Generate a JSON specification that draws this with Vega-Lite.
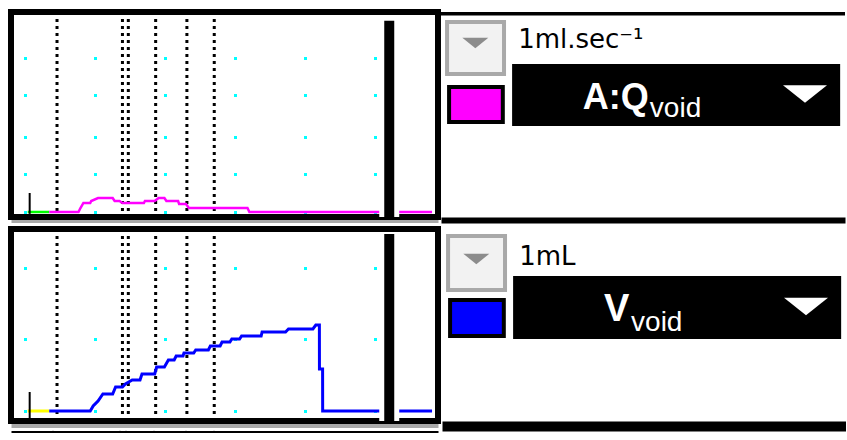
{
  "$schema": "https://vega.github.io/schema/vega-lite/v6.json",
  "background": "white",
  "padding": {"left": 8, "top": 7, "right": 0, "bottom": 0},
  "config": {"view": {"stroke": "black", "strokeWidth": 6}},
  "datasets": {
    "channels": [
      {"channel": "Qvoid", "unit": "1ml.sec⁻¹", "name": "A:Q", "sub": "void"},
      {"channel": "Vvoid", "unit": "1mL", "name": "V", "sub": "void"}
    ],
    "events": [{"t": 4}, {"t": 13.57}, {"t": 14.43}, {"t": 18.43}, {"t": 23}, {"t": 27}],
    "start": [{"t": 0}],
    "cursor": [{"t": 52.6}],
    "flow": [
      {"t": -0.29, "q": 0, "seg": "Qpre"}, {"t": 2.86, "q": 0, "seg": "Qpre"},
      {"t": 2.86, "q": 0, "seg": "Qvoid"}, {"t": 7.14, "q": 0, "seg": "Qvoid"},
      {"t": 7.43, "q": 1.05, "seg": "Qvoid"}, {"t": 7.86, "q": 2.37, "seg": "Qvoid"},
      {"t": 8.86, "q": 2.37, "seg": "Qvoid"}, {"t": 9, "q": 2.89, "seg": "Qvoid"},
      {"t": 10, "q": 3.68, "seg": "Qvoid"}, {"t": 12.14, "q": 3.68, "seg": "Qvoid"},
      {"t": 12.43, "q": 2.89, "seg": "Qvoid"}, {"t": 13.14, "q": 2.89, "seg": "Qvoid"},
      {"t": 13.57, "q": 2.37, "seg": "Qvoid"}, {"t": 16.71, "q": 2.37, "seg": "Qvoid"},
      {"t": 16.86, "q": 2.89, "seg": "Qvoid"}, {"t": 18.29, "q": 2.89, "seg": "Qvoid"},
      {"t": 18.86, "q": 3.68, "seg": "Qvoid"}, {"t": 19.71, "q": 3.68, "seg": "Qvoid"},
      {"t": 20, "q": 2.89, "seg": "Qvoid"}, {"t": 21.71, "q": 2.89, "seg": "Qvoid"},
      {"t": 21.86, "q": 2.1, "seg": "Qvoid"}, {"t": 22.86, "q": 2.1, "seg": "Qvoid"},
      {"t": 23.29, "q": 1.05, "seg": "Qvoid"}, {"t": 31.86, "q": 1.05, "seg": "Qvoid"},
      {"t": 32.14, "q": 0, "seg": "Qvoid"}, {"t": 58.86, "q": 0, "seg": "Qvoid"}
    ],
    "volume": [
      {"t": -0.29, "v": 0, "seg": "Vpre"}, {"t": 2.86, "v": 0, "seg": "Vpre"},
      {"t": 2.86, "v": 0, "seg": "Vvoid"}, {"t": 8.86, "v": 0, "seg": "Vvoid"},
      {"t": 9.29, "v": 13.7, "seg": "Vvoid"}, {"t": 10, "v": 27.4, "seg": "Vvoid"},
      {"t": 10.71, "v": 46.6, "seg": "Vvoid"}, {"t": 12.14, "v": 46.6, "seg": "Vvoid"},
      {"t": 12.57, "v": 65.8, "seg": "Vvoid"}, {"t": 13.57, "v": 65.8, "seg": "Vvoid"},
      {"t": 14, "v": 74, "seg": "Vvoid"}, {"t": 15, "v": 84.9, "seg": "Vvoid"},
      {"t": 16.14, "v": 84.9, "seg": "Vvoid"}, {"t": 16.43, "v": 101.4, "seg": "Vvoid"},
      {"t": 18.29, "v": 101.4, "seg": "Vvoid"}, {"t": 18.57, "v": 120.5, "seg": "Vvoid"},
      {"t": 19.71, "v": 120.5, "seg": "Vvoid"}, {"t": 20.29, "v": 139.7, "seg": "Vvoid"},
      {"t": 21.14, "v": 139.7, "seg": "Vvoid"}, {"t": 21.43, "v": 150.7, "seg": "Vvoid"},
      {"t": 22.43, "v": 150.7, "seg": "Vvoid"}, {"t": 22.57, "v": 158.9, "seg": "Vvoid"},
      {"t": 24, "v": 158.9, "seg": "Vvoid"}, {"t": 24.29, "v": 167.1, "seg": "Vvoid"},
      {"t": 26.14, "v": 167.1, "seg": "Vvoid"}, {"t": 26.43, "v": 178.1, "seg": "Vvoid"},
      {"t": 27.86, "v": 178.1, "seg": "Vvoid"}, {"t": 28.14, "v": 189, "seg": "Vvoid"},
      {"t": 29.29, "v": 189, "seg": "Vvoid"}, {"t": 29.57, "v": 197.3, "seg": "Vvoid"},
      {"t": 30.71, "v": 197.3, "seg": "Vvoid"}, {"t": 31, "v": 205.5, "seg": "Vvoid"},
      {"t": 33.86, "v": 205.5, "seg": "Vvoid"}, {"t": 34, "v": 216.4, "seg": "Vvoid"},
      {"t": 37.43, "v": 216.4, "seg": "Vvoid"}, {"t": 37.86, "v": 224.7, "seg": "Vvoid"},
      {"t": 41.43, "v": 224.7, "seg": "Vvoid"}, {"t": 41.86, "v": 235.6, "seg": "Vvoid"},
      {"t": 42.38, "v": 235.6, "seg": "Vvoid"}, {"t": 42.39, "v": 115, "seg": "Vvoid"},
      {"t": 42.85, "v": 115, "seg": "Vvoid"}, {"t": 42.86, "v": 0, "seg": "Vvoid"},
      {"t": 58.86, "v": 0, "seg": "Vvoid"}
    ]
  },
  "spacing": 0,
  "vconcat": [
    {
      "spacing": 0,
      "hconcat": [
        {
          "width": 427, "height": 205,
          "layer": [
            {
              "data": {"name": "events"},
              "mark": {"type": "rule", "color": "black", "strokeWidth": 3, "strokeDash": [3, 4]},
              "encoding": {
                "x": {"field": "t", "type": "quantitative", "scale": {"domain": [-2, 59], "nice": false, "zero": false},
                  "axis": {"orient": "bottom", "offset": 4, "domain": true, "domainColor": "#a9a9a9", "domainWidth": 3, "ticks": false, "labels": false, "grid": false, "title": null}}
              }
            },
            {
              "data": {"name": "flow"},
              "mark": {"type": "line", "strokeWidth": 2.5},
              "encoding": {
                "x": {"field": "t", "type": "quantitative", "scale": {"domain": [-2, 59], "nice": false, "zero": false}},
                "y": {"field": "q", "type": "quantitative", "scale": {"domain": [-1.32, 52.63], "nice": false, "zero": false},
                  "axis": {"values": [0, 10, 19.7, 30.8, 40.5], "grid": true, "gridColor": "#00ffff", "gridWidth": 3, "gridDash": [3, 67], "gridDashOffset": 57.5, "domain": false, "ticks": false, "labels": false, "title": null}},
                "stroke": {"field": "seg", "type": "nominal", "scale": {"domain": ["Qpre", "Qvoid", "Vpre", "Vvoid"], "range": ["#00ff00", "#ff00ff", "#ffff00", "#0000ff"]}, "legend": null}
              }
            },
            {
              "data": {"name": "start"},
              "mark": {"type": "rule", "color": "black", "strokeWidth": 2},
              "encoding": {"x": {"field": "t", "type": "quantitative"}, "y": {"datum": -0.5}, "y2": {"datum": 5}}
            },
            {
              "data": {"name": "cursor"},
              "mark": {"type": "bar", "color": "white", "width": 20},
              "encoding": {"x": {"field": "t", "type": "quantitative"}, "y": {"datum": 50.3}, "y2": {"datum": -1.32}}
            },
            {
              "data": {"name": "cursor"},
              "mark": {"type": "bar", "color": "black", "width": 10},
              "encoding": {"x": {"field": "t", "type": "quantitative"}, "y": {"datum": 50.3}, "y2": {"datum": -1.32}}
            }
          ]
        },
        {
          "width": 404, "height": 205,
          "view": {"stroke": null},
          "data": {"name": "channels"},
          "transform": [{"filter": "datum.channel == 'Qvoid'"}],
          "layer": [
            {
              "mark": {"type": "rect", "fill": "black"},
              "encoding": {
                "x": {"datum": 0, "type": "quantitative", "scale": {"domain": [0, 100], "nice": false, "zero": false},
                  "axis": {"orient": "bottom", "offset": 3, "domain": true, "domainColor": "black", "domainWidth": 6, "ticks": false, "labels": false, "grid": false, "title": null}},
                "x2": {"datum": 100},
                "y": {"datum": 0, "type": "quantitative", "scale": {"domain": [0, 100], "nice": false, "zero": false, "reverse": true}, "axis": null},
                "y2": {"datum": 1.7}
              }
            },
            {
              "mark": {"type": "rect", "fill": "#f2f2f2", "stroke": "#a9a9a9", "strokeWidth": 4},
              "encoding": {
                "x": {"datum": 1.5, "type": "quantitative"},
                "x2": {"datum": 15.6},
                "y": {"datum": 4.9, "type": "quantitative"},
                "y2": {"datum": 30.2}
              }
            },
            {
              "mark": {"type": "point", "shape": "M-1,-0.4L1,-0.4L0,0.4Z", "filled": true, "color": "#8c8c8c", "opacity": 1, "size": 676},
              "encoding": {
                "x": {"datum": 8.5, "type": "quantitative"},
                "y": {"datum": 15.1, "type": "quantitative"}
              }
            },
            {
              "mark": {"type": "text", "align": "left", "baseline": "alphabetic", "font": "DejaVu Sans", "fontSize": 26, "color": "black"},
              "encoding": {
                "x": {"datum": 19.1, "type": "quantitative"},
                "y": {"datum": 17.6, "type": "quantitative"},
                "text": {"field": "unit"}
              }
            },
            {
              "mark": {"type": "rect", "fill": "black"},
              "encoding": {
                "x": {"datum": 17.6, "type": "quantitative"},
                "x2": {"datum": 98.8},
                "y": {"datum": 25.4, "type": "quantitative"},
                "y2": {"datum": 55.6}
              }
            },
            {
              "mark": {"type": "rect", "stroke": "black", "strokeWidth": 4},
              "encoding": {
                "x": {"datum": 2.0, "type": "quantitative"},
                "x2": {"datum": 15.3},
                "y": {"datum": 36.6, "type": "quantitative"},
                "y2": {"datum": 53.7},
                "fill": {"field": "channel", "type": "nominal", "scale": {"domain": ["Qpre", "Qvoid", "Vpre", "Vvoid"], "range": ["#00ff00", "#ff00ff", "#ffff00", "#0000ff"]}, "legend": null}
              }
            },
            {
              "mark": {"type": "text", "align": "left", "baseline": "alphabetic", "font": "Liberation Sans", "fontSize": 36, "fontWeight": "bold", "color": "white"},
              "encoding": {
                "x": {"datum": 35.1, "type": "quantitative"},
                "y": {"datum": 47.3, "type": "quantitative"},
                "text": {"field": "name"}
              }
            },
            {
              "mark": {"type": "text", "align": "left", "baseline": "alphabetic", "font": "Liberation Sans", "fontSize": 28, "color": "white"},
              "encoding": {
                "x": {"datum": 51.7, "type": "quantitative"},
                "y": {"datum": 51.2, "type": "quantitative"},
                "text": {"field": "sub"}
              }
            },
            {
              "mark": {"type": "point", "shape": "M-1,-0.4L1,-0.4L0,0.4Z", "filled": true, "color": "white", "opacity": 1, "size": 1936},
              "encoding": {
                "x": {"datum": 90.1, "type": "quantitative"},
                "y": {"datum": 40.0, "type": "quantitative"}
              }
            }
          ]
        }
      ]
    },
    {
      "spacing": 0,
      "hconcat": [
        {
          "width": 427, "height": 192,
          "layer": [
            {
              "data": {"name": "events"},
              "mark": {"type": "rule", "color": "black", "strokeWidth": 3, "strokeDash": [3, 4]},
              "encoding": {
                "x": {"field": "t", "type": "quantitative", "scale": {"domain": [-2, 59], "nice": false, "zero": false},
                  "axis": {"orient": "bottom", "offset": 4.5, "domain": true, "domainColor": "#a9a9a9", "domainWidth": 4, "ticks": false, "labels": false, "grid": false, "title": null}}
              }
            },
            {
              "data": {"name": "volume"},
              "mark": {"type": "line", "strokeWidth": 3},
              "encoding": {
                "x": {"field": "t", "type": "quantitative"},
                "y": {"field": "v", "type": "quantitative", "scale": {"domain": [-27.4, 498.6], "nice": false, "zero": false},
                  "axis": {"values": [0, 95.9, 197.3, 298.6, 391.8, 493.2], "grid": true, "gridColor": "#00ffff", "gridWidth": 3, "gridDash": [3, 67], "gridDashOffset": 57.5, "domain": false, "ticks": false, "labels": false, "title": null}},
                "stroke": {"field": "seg", "type": "nominal", "scale": {"domain": ["Qpre", "Qvoid", "Vpre", "Vvoid"], "range": ["#00ff00", "#ff00ff", "#ffff00", "#0000ff"]}, "legend": null}
              }
            },
            {
              "data": {"name": "start"},
              "mark": {"type": "rule", "color": "black", "strokeWidth": 2},
              "encoding": {"x": {"field": "t", "type": "quantitative"}, "y": {"datum": -22}, "y2": {"datum": 52}}
            },
            {
              "data": {"name": "cursor"},
              "mark": {"type": "bar", "color": "white", "width": 20},
              "encoding": {"x": {"field": "t", "type": "quantitative"}, "y": {"datum": 485}, "y2": {"datum": -27.4}}
            },
            {
              "data": {"name": "cursor"},
              "mark": {"type": "bar", "color": "black", "width": 10},
              "encoding": {"x": {"field": "t", "type": "quantitative"}, "y": {"datum": 485}, "y2": {"datum": -27.4}}
            }
          ]
        },
        {
          "width": 404, "height": 192,
          "view": {"stroke": null},
          "data": {"name": "channels"},
          "transform": [{"filter": "datum.channel == 'Vvoid'"}],
          "layer": [
            {
              "mark": {"type": "rect", "fill": "#f2f2f2", "stroke": "#a9a9a9", "strokeWidth": 4},
              "encoding": {
                "x": {"datum": 1.5, "type": "quantitative", "scale": {"domain": [0, 100], "nice": false, "zero": false},
                  "axis": {"orient": "bottom", "offset": 5, "domain": true, "domainColor": "black", "domainWidth": 10, "ticks": false, "labels": false, "grid": false, "title": null}},
                "x2": {"datum": 15.6},
                "y": {"datum": 3.6, "type": "quantitative", "scale": {"domain": [0, 100], "nice": false, "zero": false, "reverse": true}, "axis": null},
                "y2": {"datum": 31.8}
              }
            },
            {
              "mark": {"type": "point", "shape": "M-1,-0.4L1,-0.4L0,0.4Z", "filled": true, "color": "#8c8c8c", "opacity": 1, "size": 676},
              "encoding": {
                "x": {"datum": 8.5, "type": "quantitative"},
                "y": {"datum": 15.6, "type": "quantitative"}
              }
            },
            {
              "mark": {"type": "text", "align": "left", "baseline": "alphabetic", "font": "DejaVu Sans", "fontSize": 26, "color": "black"},
              "encoding": {
                "x": {"datum": 19.1, "type": "quantitative"},
                "y": {"datum": 18.75, "type": "quantitative"},
                "text": {"field": "unit"}
              }
            },
            {
              "mark": {"type": "rect", "fill": "black"},
              "encoding": {
                "x": {"datum": 17.6, "type": "quantitative"},
                "x2": {"datum": 98.8},
                "y": {"datum": 24.5, "type": "quantitative"},
                "y2": {"datum": 57.3}
              }
            },
            {
              "mark": {"type": "rect", "stroke": "black", "strokeWidth": 4},
              "encoding": {
                "x": {"datum": 2.0, "type": "quantitative"},
                "x2": {"datum": 15.3},
                "y": {"datum": 37.0, "type": "quantitative"},
                "y2": {"datum": 55.7},
                "fill": {"field": "channel", "type": "nominal", "scale": {"domain": ["Qpre", "Qvoid", "Vpre", "Vvoid"], "range": ["#00ff00", "#ff00ff", "#ffff00", "#0000ff"]}, "legend": null}
              }
            },
            {
              "mark": {"type": "text", "align": "left", "baseline": "alphabetic", "font": "Liberation Sans", "fontSize": 38, "fontWeight": "bold", "color": "white"},
              "encoding": {
                "x": {"datum": 40.1, "type": "quantitative"},
                "y": {"datum": 47.9, "type": "quantitative"},
                "text": {"field": "name"}
              }
            },
            {
              "mark": {"type": "text", "align": "left", "baseline": "alphabetic", "font": "Liberation Sans", "fontSize": 28, "color": "white"},
              "encoding": {
                "x": {"datum": 46.8, "type": "quantitative"},
                "y": {"datum": 53.1, "type": "quantitative"},
                "text": {"field": "sub"}
              }
            },
            {
              "mark": {"type": "point", "shape": "M-1,-0.4L1,-0.4L0,0.4Z", "filled": true, "color": "white", "opacity": 1, "size": 1936},
              "encoding": {
                "x": {"datum": 90.1, "type": "quantitative"},
                "y": {"datum": 40.4, "type": "quantitative"}
              }
            }
          ]
        }
      ]
    },
    {
      "width": 427, "height": 1,
      "view": {"stroke": null},
      "data": {"name": "events"},
      "mark": {"type": "rule", "color": "#cccccc", "strokeWidth": 1},
      "encoding": {
        "x": {"field": "t", "type": "quantitative", "scale": {"domain": [-2, 59], "nice": false, "zero": false},
          "axis": {"orient": "bottom", "offset": 1.5, "domain": true, "domainColor": "black", "domainWidth": 4, "ticks": false, "labels": false, "grid": false, "title": null}}
      }
    }
  ]
}
